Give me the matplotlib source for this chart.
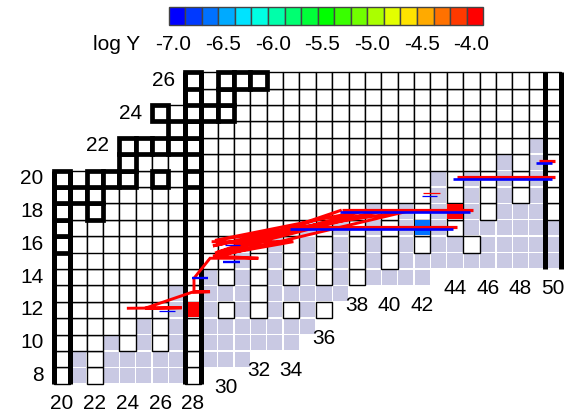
import matplotlib
matplotlib.use("Agg")
import matplotlib.pyplot as plt
from matplotlib.patches import Rectangle
from matplotlib.colors import hsv_to_rgb

plt.rcParams['font.family'] = ['Liberation Sans', 'DejaVu Sans']

# ---------------- chart data ----------------
# rows of the nuclide chart (proton number Z) and the N range drawn in each row
z_rows = list(range(8, 27))
n_first = [20, 20, 20, 20, 20, 20, 20, 20, 20, 20, 20, 20, 20, 24, 24, 27, 26, 28, 28]
n_last = [28, 31, 34, 35, 36, 37, 42, 50, 50, 50, 50, 50, 50, 50, 50, 50, 50, 50, 50]

# stable nuclides (Z -> list of N)
stable = {16: [20], 17: [20], 18: [20, 22], 19: [20, 21, 22],
          20: [20, 22, 23, 24, 26, 28], 21: [24], 22: [24, 25, 26, 27, 28],
          23: [27, 28], 24: [26, 28, 29, 30], 25: [30], 26: [28, 30, 31, 32]}

# nuclides without data (N -> list of Z), shaded
no_data = {21: [8, 9], 23: [8, 9, 10], 24: [8, 9], 25: [8, 9, 10, 11], 26: [8, 9],
           27: [8, 9, 10, 11, 12, 13], 29: [9, 10, 11, 12, 13, 14],
           30: [9, 10, 11, 13], 31: [9, 10, 11, 12, 13, 14, 15, 16], 32: [10, 11],
           33: [10, 11, 12, 13, 14, 15, 16], 34: [10, 11, 13],
           35: [11, 12, 13, 14, 15, 16, 17], 36: [13], 37: [13, 14, 15, 16, 17],
           39: [14, 15, 16, 17, 18], 40: [14], 41: [14, 15, 16, 17, 18], 42: [14, 15],
           43: [15, 16, 17, 18, 19, 20], 44: [15, 16], 45: [15, 17, 18, 19, 20],
           46: [15, 16, 17], 47: [15, 16, 17, 18, 19, 20, 21], 48: [15, 16, 17, 18],
           49: [15, 16, 17, 18, 19, 20, 21, 22], 50: [15, 16, 17]}

# magic neutron numbers
magic_n = [20, 28, 50]

# yields of selected nuclides: (N, Z, log Y)
yield_n = [28, 44, 42]
yield_z = [12, 18, 17]
yield_logy = [-4.0, -4.0, -6.67]

# colour scale
logy_levels = [-7.0 + i / 6 for i in range(19)]
logy_ticks = [-7.0, -6.5, -6.0, -5.5, -5.0, -4.5, -4.0]

# abundance ranges: (Z, N from, N to)
blue_z = [11.93, 13.96, 14.94, 15.96, 16.93, 17.95, 18.95, 19.96, 20.94]
blue_n0 = [25.9, 27.92, 29.85, 29.95, 33.9, 37.0, 41.97, 43.9, 48.95]
blue_n1 = [26.9, 28.94, 30.87, 30.87, 43.9, 44.9, 42.9, 49.9, 49.9]
blue_w = [0.9, 1.7, 1.7, 0.9, 1.9, 1.9, 0.9, 1.9, 1.9]

red_z = [17.08, 18.09, 19.1, 20.12, 21.1]
red_n0 = [33.9, 37.1, 42.06, 44.1, 49.15]
red_n1 = [44.1, 45.1, 43.08, 50.1, 50.1]
red_w = [2.3, 2.3, 0.9, 2.3, 2.3]

# path of the abundance maximum (N, Z)
path_n = [24.05, 27.31, 25.07, 27.92, 29.04, 28.06, 28.06, 29.04, 31.99, 29.22, 34.13,
          29.14, 32.50, 29.45, 37.08, 29.34, 41.25, 29.34, 38.61, 29.34, 39.60, 29.22,
          33.92]
path_z = [12.10, 12.13, 12.10, 13.07, 13.11, 13.11, 13.93, 15.15, 15.15, 15.29, 16.16,
          16.16, 15.96, 15.51, 18.09, 15.23, 18.05, 16.24, 18.09, 15.47, 18.05, 15.90,
          16.98]

# ---------------- figure ----------------
W, H = 582, 417
fig = plt.figure(figsize=(W / 100, H / 100), dpi=100)
ax = fig.add_axes([0, 0, 1, 1])
PX_N, PX_Z = 16.375, 16.4      # pixels per nucleon step
X20, Y8 = 62.0, 375.5          # pixel centre of the (N=20, Z=8) cell
ax.set_xlim(20 - X20 / PX_N, 20 + (W - X20) / PX_N)
ax.set_ylim(8 - (H - Y8) / PX_Z, 8 + Y8 / PX_Z)
ax.axis('off')


def px(x, y):
    return 20 + (x - X20) / PX_N, 8 + (Y8 - y) / PX_Z


LAV = '#c9c9e3'
lowest = {}
for z, a, b in zip(z_rows, n_first, n_last):
    for n in range(a, b + 1):
        lowest[n] = min(lowest.get(n, 99), z)
        if z in no_data.get(n, []):
            s = 0.92
            ax.add_patch(Rectangle((n - s / 2, z - s / 2), s, s, fc=LAV, ec='none', zorder=1))
        else:
            ax.add_patch(Rectangle((n - 0.5, z - 0.5), 1, 1, fc='white', ec='black',
                                   lw=1.0, zorder=2))

for z, ns in stable.items():
    for n in ns:
        ax.add_patch(Rectangle((n - 0.5, z - 0.5), 1, 1, fc='white', ec='black',
                               lw=3.4, zorder=4, joinstyle='miter'))


def level_color(v):
    i = int(round((min(max(v, -7), -4) + 7) * 6))
    return hsv_to_rgb([(240 - i * 240 / 18) / 360, 1, 1])


for n, z, v in zip(yield_n, yield_z, yield_logy):
    s = 0.92
    ax.add_patch(Rectangle((n - s / 2, z - s / 2), s, s, fc=level_color(v), ec='none', zorder=3))

for n in magic_n:
    zs = [z for z, a, b in zip(z_rows, n_first, n_last) if a <= n <= b]
    for x in (n - 0.5, n + 0.5):
        ax.plot([x, x], [min(zs) - 0.5, max(zs) + 0.5], color='black', lw=3.6,
                solid_capstyle='butt', zorder=5)

# abundance ranges and path
for z, a, b, w in zip(blue_z, blue_n0, blue_n1, blue_w):
    ax.plot([a, b], [z, z], color='#0000ff', lw=w, solid_capstyle='butt', zorder=7)
for z, a, b, w in zip(red_z, red_n0, red_n1, red_w):
    ax.plot([a, b], [z, z], color='#ff0000', lw=w, solid_capstyle='butt', zorder=6)
ax.plot(path_n, path_z, color='#ff0000', lw=2.1, zorder=6, solid_joinstyle='miter')

# axis numbers
FS = 15
for z, a in zip(z_rows, n_first):
    if z % 2 == 0:
        ax.text(a - 0.5 - 0.62, z, str(z), ha='right', va='center', fontsize=FS)
for n in range(20, 51, 2):
    ax.text(n, lowest[n] - 1.72, str(n), ha='center', va='center', fontsize=FS)

# colour scale
x0, y0 = px(168.7, 6.7)
bw = 16.55 / PX_N
bh = 18.7 / PX_Z
for i, v in enumerate(logy_levels):
    ax.add_patch(Rectangle((x0 + i * bw, y0 - bh), bw, bh, fc=level_color(v),
                           ec='#444444', lw=1.0, zorder=8))
ty = px(0, 45)[1]
for t in logy_ticks:
    i = round((t + 7) * 6)
    ax.text(x0 + (i + 0.5) * bw - 3.5 / PX_N, ty, f'{t:.1f}', ha='center', va='center', fontsize=FS)
ax.text(px(117, 0)[0], ty, 'log Y', ha='center', va='center', fontsize=FS)

fig.savefig('out.png', dpi=100)
